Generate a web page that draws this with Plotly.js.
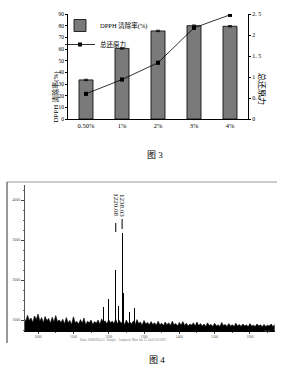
<!DOCTYPE html>
<html><head><meta charset="utf-8">
<script src="https://cdn.plot.ly/plotly-3.0.1.min.js"></script>
<style>html,body{margin:0;padding:0;background:#fff}#c{width:288px;height:383px}</style>
</head><body><div id="c"></div>
<script>
// ---- Figure 3 data ----
const concentrations = ["0.50%", "1%", "2%", "3%", "4%"];
const dpphRate = [33.5, 60.5, 75.5, 80, 79.5];
const dpphErr = [0.6, 0.6, 0.6, 0.6, 0.6];
const reducingPower = [0.6, 0.94, 1.34, 2.17, 2.48];
const reducingErr = [0.03, 0.03, 0.03, 0.03, 0.03];
const leftTicks = [0, 10, 20, 30, 40, 50, 60, 70, 80, 90];
const rightTickVals = [0, 0.5, 1, 1.5, 2, 2.5];
const rightTickText = ["0", "0. 5", "1", "1. 5", "2", "2. 5"];

// ---- Figure 4 data (mass spectrum) ----
const noiseStart = 960, noiseStep = 5;
const noiseTop = [
 1080, 960, 1120, 990, 1050, 940, 1100, 1010, 1150, 970, 1060, 930, 1090, 980, 1040, 920, 1070, 950, 1110, 960, 1000,
 940, 1020, 900, 1060, 930, 990, 890, 1080, 940, 960, 900, 1010, 920, 1050, 880, 970, 930, 1000, 890, 960,
 920, 1000, 890, 1030, 940, 980, 900, 1010, 930, 970, 910, 1020, 900, 990, 920, 960, 890, 1000, 910, 950,
 900, 980, 880, 1010, 910, 950, 870, 990, 900, 940, 880, 960, 890, 930, 870, 970, 880, 920, 860, 950,
 880, 930, 860, 970, 880, 910, 850, 940, 870, 960, 860, 920, 850, 900, 870, 930, 850, 950, 860, 910,
 850, 900, 840, 930, 860, 890, 840, 920, 850, 880, 840, 940, 860, 890, 840, 910, 850, 880, 840, 920,
 850, 890, 840, 900, 850, 880, 830, 910, 850, 870, 840, 900, 850, 880, 830, 890, 840, 870, 850, 900, 840, 880
];
const peakMz = [1185, 1199, 1220.08, 1229, 1238.03, 1241, 1259, 1273];
const peakInt = [1330, 1525, 2250, 1350, 3175, 1680, 1200, 1290];
const labelledMz = [1220.08, 1238.03];
const labelledText = ["1220.08", "1238.03"];
const specXTicks = [1000, 1100, 1200, 1300, 1400, 1500, 1600];
const specYTicks = [1000, 2000, 3000, 4000];

const W = 288, H = 383;
const px = v => v / W, py = v => 1 - v / H;
const serif = "Liberation Serif, Noto Sans CJK SC, serif";

const traces = [
  {type: "bar", name: "DPPH 清除率(%)", x: concentrations, y: dpphRate,
   xaxis: "x", yaxis: "y", width: 0.39,
   marker: {color: "#7a7a7a", line: {color: "#000", width: 0.8}},
   error_y: {type: "data", array: dpphErr, visible: true, color: "#000", thickness: 0.8, width: 2}},
  {type: "scatter", mode: "lines+markers", name: "总还原力", x: concentrations, y: reducingPower,
   xaxis: "x", yaxis: "y2",
   line: {color: "#000", width: 0.8},
   marker: {symbol: "square", size: 4, color: "#000"},
   error_y: {type: "data", array: reducingErr, visible: true, color: "#000", thickness: 0.8, width: 2}},
  {type: "scatter", mode: "lines", x0: noiseStart, dx: noiseStep, y: noiseTop,
   xaxis: "x3", yaxis: "y3", fill: "tozeroy", fillcolor: "#000",
   line: {color: "#000", width: 0.6}, showlegend: false},
  {type: "bar", x: peakMz, y: peakInt, xaxis: "x3", yaxis: "y3", width: 2.6,
   marker: {color: "#000", line: {width: 0}}, showlegend: false}
];

const annotations = [
  {xref: "paper", yref: "paper", x: px(48), y: py(69), text: "DPPH 清除率(%)", textangle: -90,
   showarrow: false, font: {family: serif, size: 7, color: "#000"}},
  {xref: "paper", yref: "paper", x: px(269), y: py(71), text: "总还原力", textangle: 90,
   showarrow: false, font: {family: serif, size: 8, color: "#000"}},
  {xref: "paper", yref: "paper", x: px(155), y: py(155), text: "图 3",
   showarrow: false, font: {family: serif, size: 9, color: "#000"}},
  {xref: "paper", yref: "paper", x: px(157), y: py(367), text: "图 4",
   showarrow: false, font: {family: serif, size: 9, color: "#000"}},
  {xref: "paper", yref: "paper", x: px(272), y: py(335), text: "m/z",
   showarrow: false, font: {family: serif, size: 4, color: "#555"}},
  {xref: "paper", yref: "paper", x: px(123), y: py(343.5), text: "Data: 20060914 A1  Sample   Acquired: Mon Jan 15 14:25:50 2007",
   showarrow: false, font: {family: serif, size: 3.2, color: "#777"}},
];
labelledMz.forEach((m, i) => {
  annotations.push({xref: "x3", yref: "paper", x: m, y: py(205), text: labelledText[i], textangle: 90,
    showarrow: false, font: {family: serif, size: 7, color: "#000"}});
});

const shapes = [
  {type: "line", xref: "paper", yref: "paper", x0: px(7), x1: px(277), y0: py(182), y1: py(182),
   line: {color: "#999", width: 1}},
  {type: "line", xref: "paper", yref: "paper", x0: px(7), x1: px(7), y0: py(182), y1: py(343),
   line: {color: "#333", width: 1}},
];
labelledMz.forEach((m, i) => {
  shapes.push({type: "line", xref: "x3", yref: "paper", x0: m, x1: m, y0: py(i === 0 ? 232 : 229), y1: py(i === 0 ? 223 : 219),
    line: {color: "#000", width: 1}});
});

const layout = {
  width: W, height: H, margin: {l: 0, r: 0, t: 0, b: 0},
  paper_bgcolor: "#fff", plot_bgcolor: "rgba(0,0,0,0)",
  showlegend: true,
  legend: {x: px(60), y: py(11), xanchor: "left", yanchor: "top", bgcolor: "rgba(0,0,0,0)",
    font: {family: serif, size: 6.5, color: "#000"}, itemwidth: 30, tracegroupgap: 0},
  bargap: 0,
  xaxis: {domain: [px(68), px(248)], anchor: "y", type: "category", categoryorder: "array",
    categoryarray: concentrations, showline: true, linecolor: "#000", linewidth: 1,
    ticks: "", tickfont: {family: serif, size: 6.5, color: "#000"}, showgrid: false, zeroline: false},
  yaxis: {domain: [py(119), py(14)], anchor: "x", range: [0, 90], tickvals: leftTicks,
    showline: true, linecolor: "#000", linewidth: 1, ticks: "outside", ticklen: 2, tickcolor: "#000",
    tickfont: {family: serif, size: 5.5, color: "#000"}, showgrid: false, zeroline: false},
  yaxis2: {overlaying: "y", side: "right", anchor: "x", range: [0, 2.5], tickvals: rightTickVals,
    ticktext: rightTickText, showline: true, linecolor: "#000", linewidth: 1, ticks: "outside",
    ticklen: 2, tickcolor: "#000", tickfont: {family: serif, size: 6, color: "#000"},
    showgrid: false, zeroline: false},
  xaxis3: {domain: [px(25), px(275)], anchor: "y3", range: [963, 1671], tickvals: specXTicks,
    showline: true, linecolor: "#000", linewidth: 1, ticks: "outside", ticklen: 2, tickcolor: "#444",
    tickfont: {family: serif, size: 3.5, color: "#555"}, showgrid: false, zeroline: false,
    minor: {dtick: 50, ticks: "outside", ticklen: 1, tickcolor: "#666"}},
  yaxis3: {domain: [py(331), py(185)], anchor: "x3", range: [725, 4375], tickvals: specYTicks,
    showline: true, linecolor: "#555", linewidth: 1, ticks: "outside", ticklen: 3, tickcolor: "#444",
    tickfont: {family: serif, size: 4, color: "#555"}, showgrid: false, zeroline: false,
    minor: {dtick: 250, ticks: "outside", ticklen: 1.5, tickcolor: "#666"}},
  annotations: annotations,
  shapes: shapes
};

Plotly.newPlot("c", traces, layout, {staticPlot: true, displayModeBar: false});
</script>
</body></html>
